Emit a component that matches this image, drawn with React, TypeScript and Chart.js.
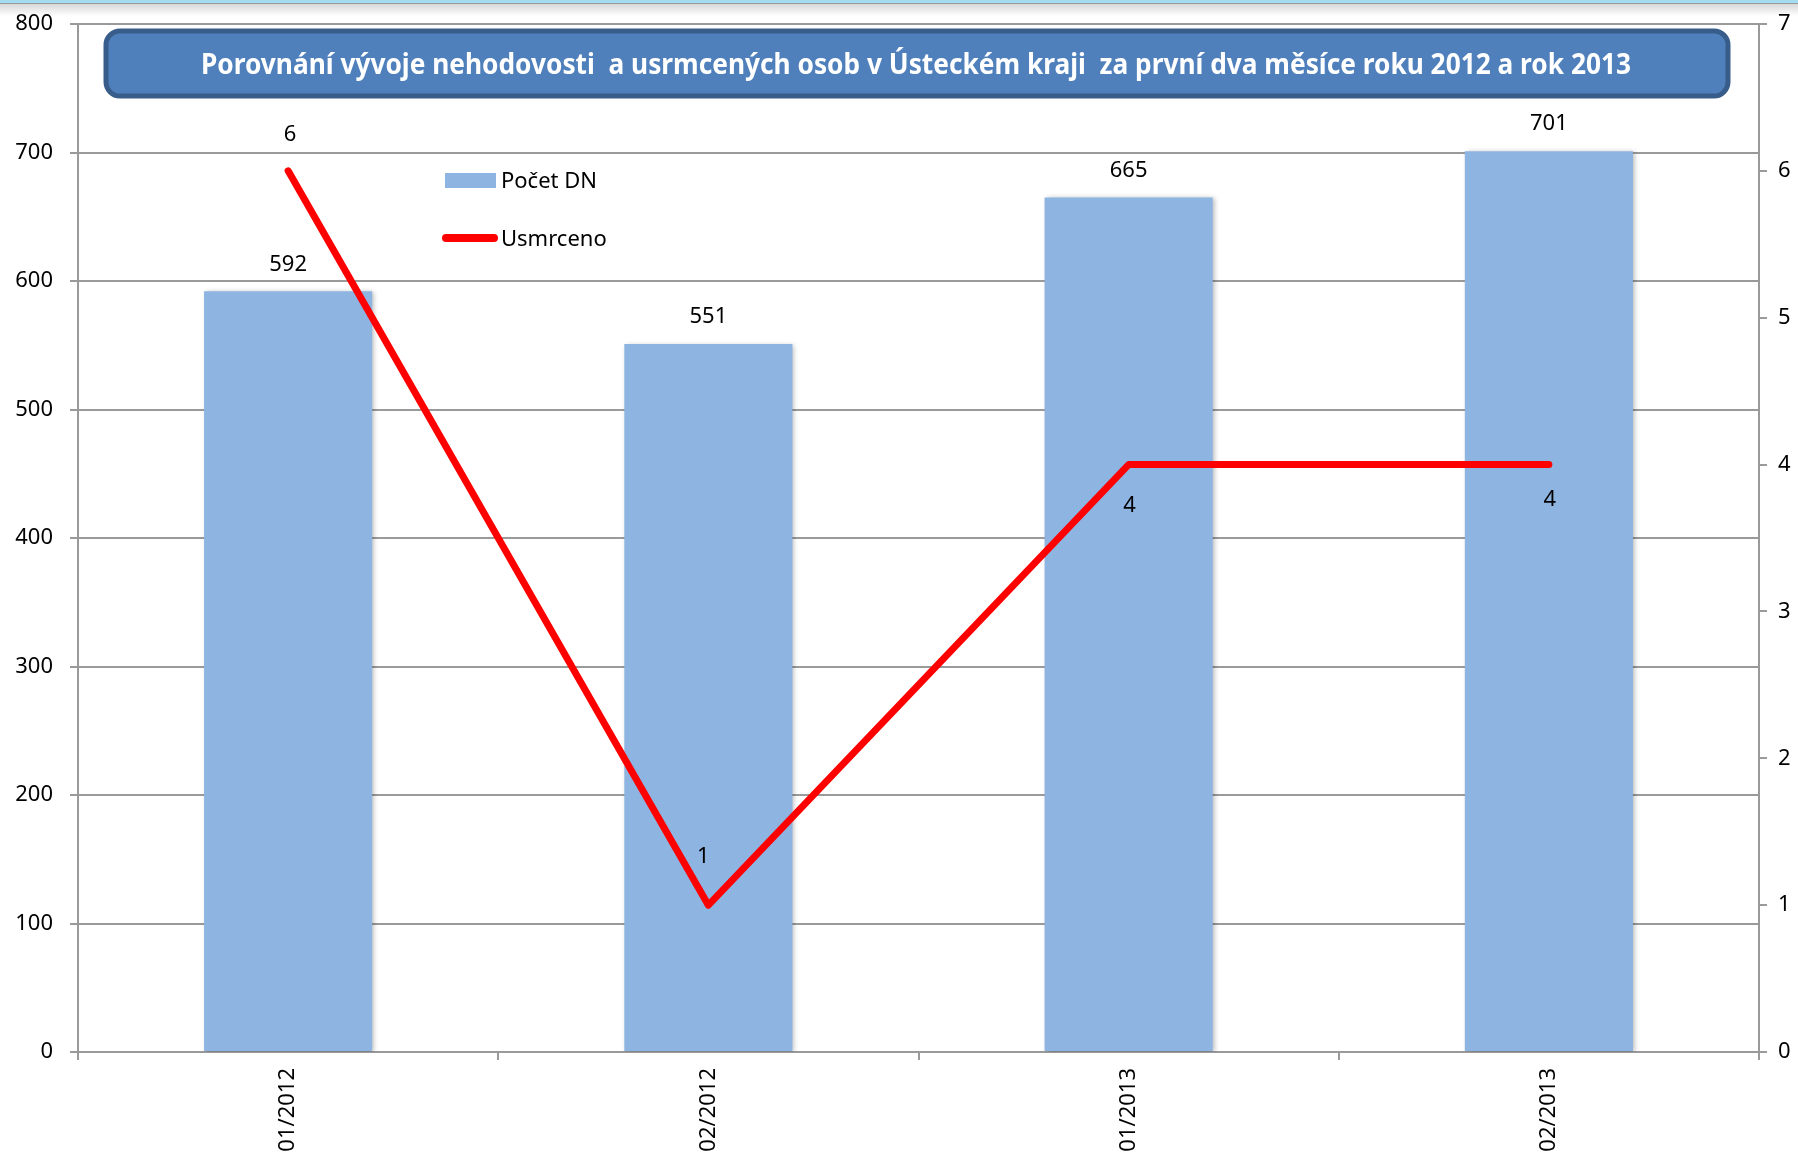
import React, { useEffect, useRef } from "react";
import { Chart, registerables } from "chart.js";

Chart.register(...registerables);

// ---- data ----
const categories = ["01/2012", "02/2012", "01/2013", "02/2013"];
const accidents = [592, 551, 665, 701];
const killed = [6, 1, 4, 4];
const seriesNames = ["Počet DN", "Usmrceno"];
const leftAxisMax = 800;
const leftAxisStep = 100;
const rightAxisMax = 7;
const rightAxisStep = 1;
const chartTitle =
  "Porovnání vývoje nehodovosti  a usrmcených osob v Ústeckém kraji  za první dva měsíce roku 2012 a rok 2013";

// ---- styles ----
const FONT = "'Noto Sans', 'Open Sans', 'DejaVu Sans', sans-serif";
const BAR_COLOR = "#8eb4e2";
const LINE_COLOR = "#ff0000";
const GRID_COLOR = "#9a9a9a";
const W = 1798;
const H = 1161;
// per-point label offsets (dx, dy) for the line labels
const lineLabelOffsets = [
  [2, -36],
  [-5, -48],
  [1, 41],
  [1, 35],
];

const decorPlugin = {
  id: "decor",
  beforeDraw(chart: any) {
    const ctx = chart.ctx;
    ctx.save();
    ctx.fillStyle = "#ffffff";
    ctx.fillRect(0, 0, chart.width, chart.height);
    ctx.fillStyle = "#a6dcef";
    ctx.fillRect(0, 0, chart.width, 3);
    ctx.fillStyle = "#9a9a9a";
    ctx.fillRect(0, 3, chart.width, 1);
    const g = ctx.createLinearGradient(0, 4, 0, 16);
    g.addColorStop(0, "#d8d8d8");
    g.addColorStop(1, "#ffffff");
    ctx.fillStyle = g;
    ctx.fillRect(0, 4, chart.width, 12);
    ctx.restore();
  },
  beforeDatasetDraw(chart: any, args: any) {
    if (args.index === 0) {
      const ctx = chart.ctx;
      ctx.save();
      ctx.shadowColor = "rgba(0,0,0,0.28)";
      ctx.shadowBlur = 5;
      ctx.shadowOffsetX = 2;
      ctx.shadowOffsetY = 1;
    }
  },
  afterDatasetDraw(chart: any, args: any) {
    if (args.index === 0) chart.ctx.restore();
  },
  afterDraw(chart: any) {
    const ctx = chart.ctx;
    ctx.save();
    // title box
    const bx = 106,
      by = 31,
      bw = 1622,
      bh = 65;
    ctx.beginPath();
    if ((ctx as any).roundRect) (ctx as any).roundRect(bx, by, bw, bh, 14);
    else ctx.rect(bx, by, bw, bh);
    ctx.fillStyle = "#4f80bc";
    ctx.fill();
    ctx.lineWidth = 5;
    ctx.strokeStyle = "#385d8a";
    ctx.stroke();
    ctx.fillStyle = "#ffffff";
    ctx.font = `bold 28px ${FONT}`;
    ctx.textAlign = "center";
    ctx.textBaseline = "middle";
    ctx.fillText(chartTitle, 916, 66, 1430);

    // legend
    ctx.fillStyle = BAR_COLOR;
    ctx.fillRect(445, 173, 51, 15);
    ctx.strokeStyle = LINE_COLOR;
    ctx.lineWidth = 8;
    ctx.lineCap = "round";
    ctx.beginPath();
    ctx.moveTo(446, 238);
    ctx.lineTo(494, 238);
    ctx.stroke();
    ctx.fillStyle = "#000000";
    ctx.font = `22px ${FONT}`;
    ctx.textAlign = "left";
    ctx.textBaseline = "alphabetic";
    ctx.fillText(seriesNames[0], 501, 188);
    ctx.fillText(seriesNames[1], 501, 246);

    // data labels
    ctx.textAlign = "center";
    ctx.textBaseline = "middle";
    const barMeta = chart.getDatasetMeta(0);
    barMeta.data.forEach((el: any, i: number) => {
      ctx.fillText(String(accidents[i]), el.x, el.y - 27);
    });
    const lineMeta = chart.getDatasetMeta(1);
    lineMeta.data.forEach((el: any, i: number) => {
      const [dx, dy] = lineLabelOffsets[i];
      ctx.fillText(String(killed[i]), el.x + dx, el.y + dy);
    });
    ctx.restore();
  },
};

export default function App() {
  const ref = useRef<HTMLCanvasElement>(null);
  useEffect(() => {
    document.body.style.margin = "0";
    document.body.style.overflow = "hidden";
    const canvas = ref.current!;
    const tickFont = { family: FONT, size: 22 };
    const chart = new Chart(canvas, {
      type: "bar",
      data: {
        labels: categories,
        datasets: [
          {
            type: "bar",
            label: seriesNames[0],
            data: accidents,
            backgroundColor: BAR_COLOR,
            borderWidth: 0,
            barPercentage: 0.4,
            categoryPercentage: 1,
            yAxisID: "y",
            order: 2,
          },
          {
            type: "line",
            label: seriesNames[1],
            data: killed,
            borderColor: LINE_COLOR,
            borderWidth: 7,
            borderCapStyle: "round",
            borderJoinStyle: "round",
            pointRadius: 0,
            tension: 0,
            fill: false,
            yAxisID: "y1",
            order: 1,
          },
        ],
      },
      options: {
        responsive: false,
        animation: false,
        devicePixelRatio: 1,
        layout: { padding: { top: 24, left: 0, right: 0, bottom: 0 } },
        plugins: {
          legend: { display: false },
          title: { display: false },
          tooltip: { enabled: false },
        },
        scales: {
          x: {
            offset: true,
            grid: {
              offset: true,
              drawOnChartArea: false,
              drawTicks: true,
              tickLength: 8,
              color: GRID_COLOR,
              lineWidth: 2,
            },
            border: { display: true, color: GRID_COLOR, width: 2 },
            ticks: {
              font: tickFont,
              color: "#000",
              maxRotation: 90,
              minRotation: 90,
              padding: 8,
            },
            afterFit(scale: any) {
              scale.height = 109;
              scale.paddingLeft = 0;
              scale.paddingRight = 0;
            },
          },
          y: {
            position: "left",
            min: 0,
            max: leftAxisMax,
            ticks: {
              stepSize: leftAxisStep,
              font: tickFont,
              color: "#000",
              padding: 17,
            },
            grid: { color: GRID_COLOR, lineWidth: 2, tickLength: 8 },
            border: { display: true, color: GRID_COLOR, width: 2 },
            afterFit(scale: any) {
              scale.width = 78;
              scale.paddingTop = 0;
              scale.paddingBottom = 0;
            },
          },
          y1: {
            position: "right",
            min: 0,
            max: rightAxisMax,
            ticks: {
              stepSize: rightAxisStep,
              font: tickFont,
              color: "#000",
              padding: 11,
            },
            grid: {
              drawOnChartArea: false,
              color: GRID_COLOR,
              lineWidth: 2,
              tickLength: 8,
            },
            border: { display: true, color: GRID_COLOR, width: 2 },
            afterFit(scale: any) {
              scale.width = 39;
              scale.paddingTop = 0;
              scale.paddingBottom = 0;
            },
          },
        },
      } as any,
      plugins: [decorPlugin],
    });
    return () => chart.destroy();
  }, []);
  return (
    <div style={{ width: W, height: H, background: "#fff" }}>
      <canvas ref={ref} width={W} height={H} style={{ display: "block" }} />
    </div>
  );
}
